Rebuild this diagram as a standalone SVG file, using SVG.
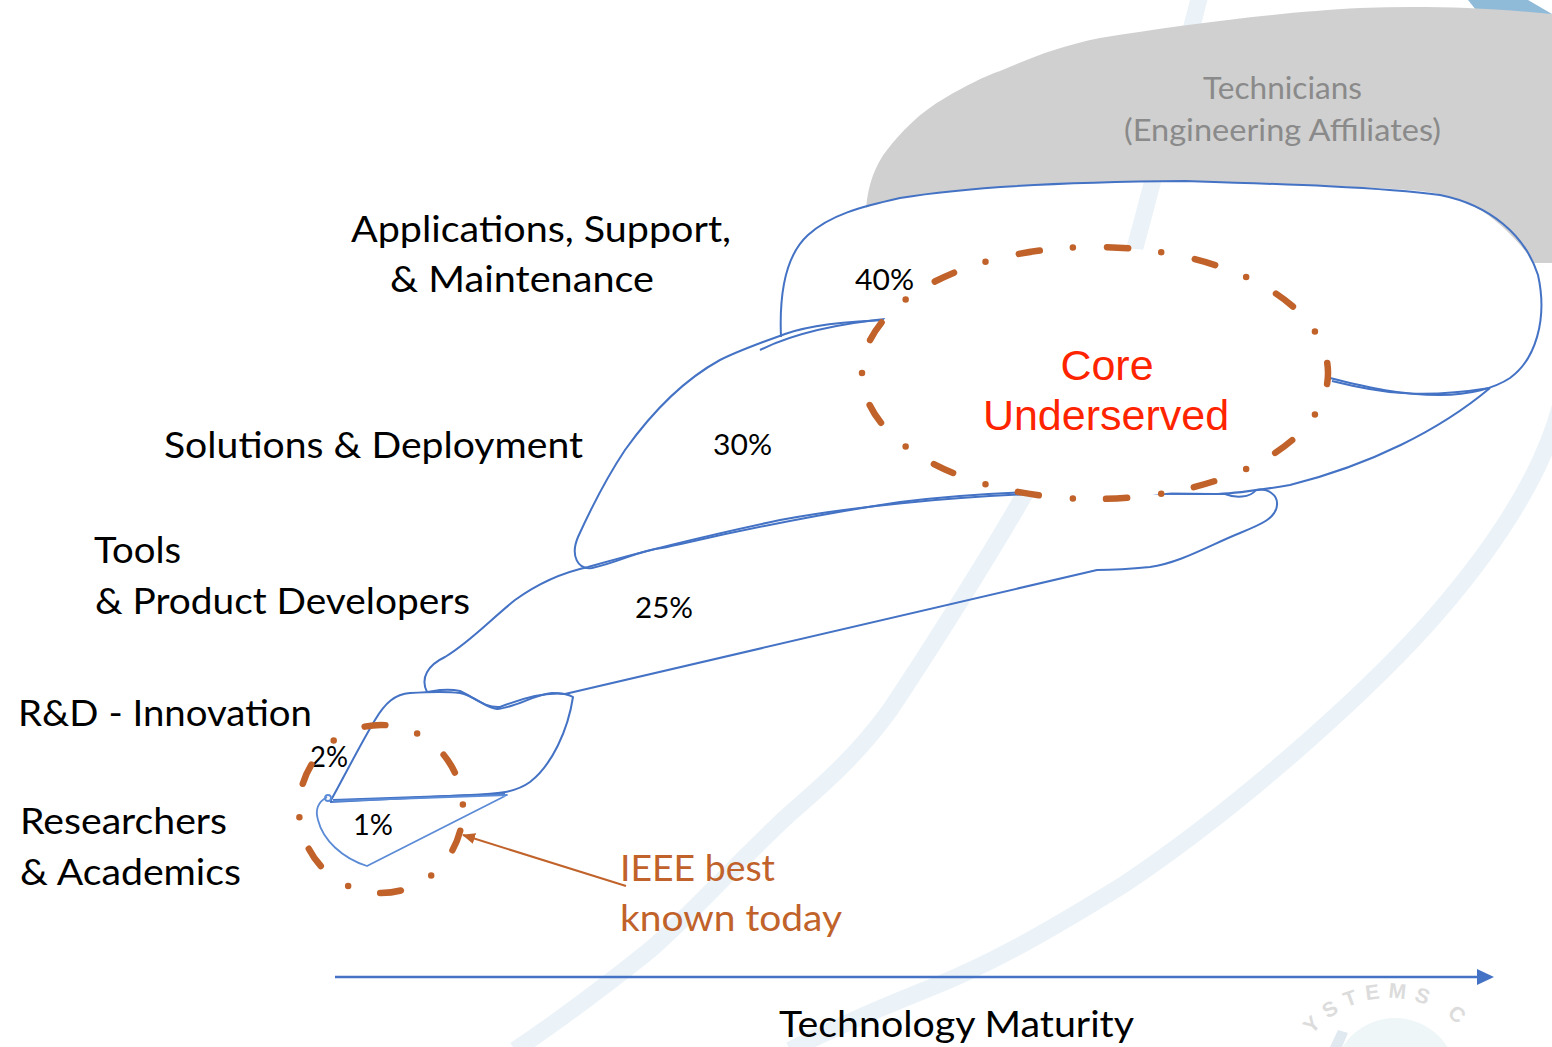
<svg xmlns="http://www.w3.org/2000/svg" width="1552" height="1047" viewBox="0 0 1552 1047">
<style>
.lbl{font-family:Lato,"Open Sans","Liberation Sans",sans-serif;font-size:37px;fill:#000}
.pct{font-family:Lato,"Open Sans","Liberation Sans",sans-serif;font-size:29px;fill:#000}
.tech{font-family:Lato,"Open Sans","Liberation Sans",sans-serif;font-size:31px;fill:#8a8a8a}
.core{font-family:"Liberation Sans",Arial,sans-serif;font-size:43px;fill:#ff2400}
.ieee{font-family:Lato,"Open Sans","Liberation Sans",sans-serif;font-size:37px;fill:#c0622a}
.ol{fill:none;stroke:#4472c4;stroke-width:2;stroke-linejoin:round}
.ol2{fill:none;stroke:#5b8bd6;stroke-width:1.8;stroke-linejoin:round}
.pale{fill:none;stroke:#ecf3f8;stroke-width:17}
.dd{stroke:#c0622a;stroke-width:6.5;stroke-linecap:round;stroke-dasharray:21 33 0 34}
</style>
<defs>
<marker id="ah" markerWidth="13" markerHeight="11" refX="12" refY="5.5" orient="auto" markerUnits="userSpaceOnUse">
<path d="M0,0 L13,5.5 L0,11 Z" fill="#c0622a"/>
</marker>
<path id="wm" d="M1290,1098 A100,100 0 0 1 1490,1098"/>
</defs>
<rect width="1552" height="1047" fill="#fff"/>
<g id="background">
<path class="pale" d="M1200,-5 C1170,110 1150,200 1120,300 C1090,390 1060,440 1023,497 C990,555 930,650 890,710 C850,765 810,795 783,820 C730,870 690,915 650,950 C600,990 560,1020 515,1050"/>
<path class="pale" d="M1562,400 C1545,470 1500,540 1440,610 C1380,680 1250,800 1123,885 C1050,930 990,965 925,990 C870,1012 830,1030 790,1050"/>
<polygon points="1468,0 1528,0 1552,14 1552,40 1500,40" fill="#8fbad8"/>
<circle cx="1395" cy="1080" r="62" fill="#eef6f7"/>
<path d="M1330,1047 L1338,1030 L1348,1033 L1342,1047 Z" fill="#dfe9ef"/>
<text font-family="'Liberation Sans',Arial,sans-serif" font-size="21" font-weight="bold" fill="#dcdcdc" letter-spacing="8"><textPath href="#wm" startOffset="68">YSTEMS  C</textPath></text>
</g>
<g id="technicians">
<path d="M866,208 C868,185 875,165 887,150 C900,133 920,112 945,98 C965,86 985,76 1000,71 C1030,58 1060,46 1100,38 C1180,25 1280,12 1360,8 C1420,6 1480,7 1552,14 L1552,263 L1534,263 C1524,248 1505,226 1482,211 C1462,199 1440,193 1420,191 C1380,187 1280,184 1185,181 C1050,182 960,188 900,198 C885,201 875,203 866,208 Z" fill="#d0d0d0"/>
<text class="tech" x="1203" y="99" textLength="159" lengthAdjust="spacingAndGlyphs">Technicians</text>
<text class="tech" x="1124" y="141" textLength="317" lengthAdjust="spacingAndGlyphs">(Engineering Affiliates)</text>
</g>
<g id="applications">
<path class="ol" d="M781,337 C779,290 786,255 808,235 C830,215 860,207 900,198 C960,188 1050,182 1185,181 C1280,184 1380,187 1440,195 C1490,205 1525,235 1538,275 C1548,320 1535,360 1510,378 C1495,388 1470,395 1440,395 C1400,395 1370,388 1330,378"/>
<path class="ol" d="M1332,381 C1380,393 1420,399 1490,388"/>
<path class="ol" d="M1490,388 C1440,430 1370,465 1290,485 C1260,490 1240,493 1218,494 L1020,493"/>
<text class="pct" x="855" y="290" textLength="59" lengthAdjust="spacingAndGlyphs">40%</text>
<text class="lbl" x="351" y="242" textLength="380" lengthAdjust="spacingAndGlyphs">Applications, Support,</text>
<text class="lbl" x="390" y="292" textLength="264" lengthAdjust="spacingAndGlyphs">&amp; Maintenance</text>
</g>
<g id="solutions">
<path class="ol" d="M893,320 C850,321 810,325 785,334 C760,343 740,350 720,360 C680,382 650,415 625,450 C605,480 588,515 578,537 C570,556 578,570 592,568 C620,562 640,550 662,548 C700,540 780,520 900,502 C950,496 1000,493 1033,492"/>
<path class="ol" d="M760,350 C790,335 830,324 895,318"/>
<text class="pct" x="713" y="455" textLength="59" lengthAdjust="spacingAndGlyphs">30%</text>
<text class="lbl" x="164" y="458" textLength="419" lengthAdjust="spacingAndGlyphs">Solutions &amp; Deployment</text>
</g>
<g id="tools">
<path class="ol" d="M427,692 C420,678 428,665 445,657 C470,642 490,620 515,600 C540,582 565,572 588,567 C640,552 700,537 780,520 C850,507 950,497 1033,494 C1100,493 1180,494 1225,494 C1235,498 1250,498 1256,490 C1268,488 1278,495 1277,505 C1276,518 1262,524 1240,533 C1210,545 1180,563 1150,567 C1120,570 1100,570 1097,570 L565,694 C548,692 528,696 500,707 C485,708 475,698 460,691 C445,688 435,691 427,692"/>
<text class="pct" x="635" y="618" textLength="58" lengthAdjust="spacingAndGlyphs">25%</text>
<text class="lbl" x="94" y="563" textLength="87" lengthAdjust="spacingAndGlyphs">Tools</text>
<text class="lbl" x="95" y="614" textLength="375" lengthAdjust="spacingAndGlyphs">&amp; Product Developers</text>
</g>
<g id="rnd">
<path class="ol" d="M330,802 C345,775 360,745 375,720 C385,703 395,694 410,693 C425,692 445,691 460,693 C475,696 485,708 497,709 C515,708 535,694 552,693 C560,693 568,694 573,697 C568,730 552,765 530,782 C515,793 495,794 470,795 L330,802"/>
<path class="ol" d="M333,800 L505,794"/>
<text class="pct" x="310" y="767" textLength="38" lengthAdjust="spacingAndGlyphs">2%</text>
<text class="lbl" x="18" y="726" textLength="294" lengthAdjust="spacingAndGlyphs">R&amp;D - Innovation</text>
</g>
<g id="researchers">
<path class="ol2" d="M327,797 C318,802 315,810 318,820 C323,840 342,858 367,866 L507,795 L333,801"/>
<circle cx="328" cy="798" r="3" class="ol2"/>
<text class="pct" x="353" y="835" textLength="40" lengthAdjust="spacingAndGlyphs">1%</text>
<text class="lbl" x="20" y="834" textLength="207" lengthAdjust="spacingAndGlyphs">Researchers</text>
<text class="lbl" x="20" y="885" textLength="221" lengthAdjust="spacingAndGlyphs">&amp; Academics</text>
</g>
<g id="core-underserved">
<ellipse cx="1095" cy="373" rx="233" ry="126" fill="#fff" class="dd" pathLength="1144" stroke-dashoffset="10"/>
<text class="core" x="1107" y="380" text-anchor="middle">Core</text>
<text class="core" x="1106" y="430" text-anchor="middle">Underserved</text>
</g>
<g id="ieee-best-known">
<ellipse cx="381" cy="809" rx="82" ry="84" fill="none" class="dd" stroke-dashoffset="66"/>
<text class="ieee" x="620" y="881" textLength="155" lengthAdjust="spacingAndGlyphs">IEEE best</text>
<text class="ieee" x="620" y="931" textLength="222" lengthAdjust="spacingAndGlyphs">known today</text>
</g>
<g id="connectors">
<line x1="626" y1="886" x2="463" y2="835" stroke="#c0622a" stroke-width="2" marker-end="url(#ah)"/>
<line x1="335" y1="977" x2="1480" y2="977" stroke="#4472c4" stroke-width="2.5"/>
<polygon points="1477,969 1494,977 1477,985" fill="#4472c4"/>
</g>
<g id="axis-label">
<text class="lbl" x="779" y="1037" textLength="355" lengthAdjust="spacingAndGlyphs">Technology Maturity</text>
</g>
</svg>
